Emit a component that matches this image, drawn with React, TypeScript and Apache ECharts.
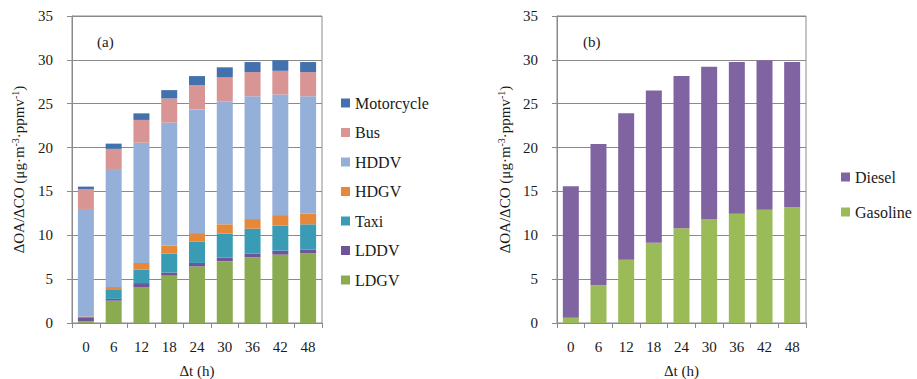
import React, { useEffect, useRef } from "react";
import * as echarts from "echarts";

const categories = ["0", "6", "12", "18", "24", "30", "36", "42", "48"];
const yTicks = [0, 5, 10, 15, 20, 25, 30, 35];

const LDGV = [0.2, 2.55, 4.1, 5.4, 6.45, 7.05, 7.5, 7.8, 7.95];
const LDDV = [0.45, 0.2, 0.45, 0.35, 0.4, 0.4, 0.4, 0.45, 0.4];
const Taxi = [0.05, 1.1, 1.55, 2.15, 2.45, 2.75, 2.85, 2.85, 2.9];
const HDGV = [0.05, 0.25, 0.75, 0.9, 0.95, 1.05, 1.1, 1.2, 1.2];
const HDDV = [12.25, 13.35, 13.7, 14.05, 14.1, 14.0, 14.0, 13.75, 13.4];
const Bus = [2.25, 2.4, 2.6, 2.75, 2.75, 2.75, 2.75, 2.7, 2.75];
const Motorcycle = [0.3, 0.6, 0.75, 0.95, 1.05, 1.15, 1.15, 1.2, 1.15];

const Gasoline = [0.6, 4.3, 7.2, 9.15, 10.8, 11.85, 12.45, 12.9, 13.2];
const Diesel = [15.0, 16.1, 16.7, 17.35, 17.35, 17.35, 17.3, 17.05, 16.55];

const FONT = "'Times New Roman', 'Liberation Serif', 'DejaVu Serif', serif";
const TXT = "#1a1a1a";
const GRID = "#8a8a8a";

export default function App() {
  const ref = useRef<HTMLDivElement>(null);
  useEffect(() => {
    if (!ref.current) return;
    const chart = echarts.init(ref.current, undefined, { renderer: "svg" });

    const mkX = (gi: number) => ({
      type: "category",
      gridIndex: gi,
      data: categories,
      name: "Δt (h)",
      nameLocation: "middle",
      nameGap: 40,
      nameTextStyle: { fontFamily: FONT, fontSize: 15, color: TXT },
      axisLine: { show: true, lineStyle: { color: GRID, width: 1 } },
      axisTick: { show: true, length: 5, lineStyle: { color: GRID } },
      axisLabel: { fontFamily: FONT, fontSize: 15, color: TXT, margin: 16, interval: 0 },
    });
    const yName = "{a|ΔOA/ΔCO (μg·m}{s|-3}{a|·ppmv}{s|-1}{a|)}";
    const mkY = (gi: number, gap: number) => ({
      type: "value",
      gridIndex: gi,
      min: yTicks[0],
      max: yTicks[yTicks.length - 1],
      interval: 5,
      name: yName,
      nameLocation: "middle",
      nameGap: gap,
      nameRotate: 90,
      nameTextStyle: {
        fontFamily: FONT,
        fontSize: 15,
        color: TXT,
        rich: {
          a: { fontFamily: FONT, fontSize: 15, color: TXT, lineHeight: 18 },
          s: { fontFamily: FONT, fontSize: 10, color: TXT, verticalAlign: "top", lineHeight: 18 },
        },
      },
      axisLine: { show: true, lineStyle: { color: GRID, width: 1 } },
      axisTick: { show: true, length: 5, lineStyle: { color: GRID } },
      axisLabel: { fontFamily: FONT, fontSize: 15, color: TXT, margin: 19 },
      splitLine: { show: true, lineStyle: { color: GRID, width: 1 } },
    });

    const bar = (name: string, data: number[], color: string, gi: number, stack: string) => ({
      name,
      type: "bar",
      stack,
      xAxisIndex: gi,
      yAxisIndex: gi,
      data,
      barWidth: 16,
      itemStyle: { color },
    });

    const legendText = { fontFamily: FONT, fontSize: 16, color: TXT, lineHeight: 16 };

    chart.setOption({
      animation: false,
      backgroundColor: "#ffffff",
      textStyle: { fontFamily: FONT, color: TXT },
      grid: [
        { left: 72, top: 16, width: 250, height: 307, show: true, borderColor: GRID, borderWidth: 1, containLabel: false, outerBoundsMode: "none" },
        { left: 557, top: 16, width: 249, height: 307, show: true, borderColor: GRID, borderWidth: 1, containLabel: false, outerBoundsMode: "none" },
      ],
      xAxis: [mkX(0), mkX(1)],
      yAxis: [mkY(0, 44), mkY(1, 43)],
      legend: [
        {
          orient: "vertical",
          left: 336,
          top: 90,
          itemWidth: 9,
          itemHeight: 9,
          itemGap: 13.5,
          icon: "rect",
          textStyle: legendText,
          data: ["Motorcycle", "Bus", "HDDV", "HDGV", "Taxi", "LDDV", "LDGV"],
        },
        {
          orient: "vertical",
          left: 836,
          top: 164,
          itemWidth: 9,
          itemHeight: 9,
          itemGap: 19,
          icon: "rect",
          textStyle: legendText,
          data: ["Diesel", "Gasoline"],
        },
      ],
      graphic: [
        { type: "text", left: 97, top: 34, style: { text: "(a)", fontFamily: FONT, fontSize: 15, fill: TXT } },
        { type: "text", left: 583, top: 34, style: { text: "(b)", fontFamily: FONT, fontSize: 15, fill: TXT } },
      ],
      series: [
        bar("LDGV", LDGV, "#8aab4f", 0, "a"),
        bar("LDDV", LDDV, "#70549a", 0, "a"),
        bar("Taxi", Taxi, "#3a9cb4", 0, "a"),
        bar("HDGV", HDGV, "#e6873a", 0, "a"),
        bar("HDDV", HDDV, "#95b0d8", 0, "a"),
        bar("Bus", Bus, "#d99594", 0, "a"),
        bar("Motorcycle", Motorcycle, "#4371ad", 0, "a"),
        bar("Gasoline", Gasoline, "#9bbb59", 1, "b"),
        bar("Diesel", Diesel, "#8064a2", 1, "b"),
      ],
    });
    return () => chart.dispose();
  }, []);
  return (
    <div
      ref={ref}
      style={{ position: "fixed", left: 0, top: 0, width: 917, height: 379, background: "#fff" }}
    />
  );
}
